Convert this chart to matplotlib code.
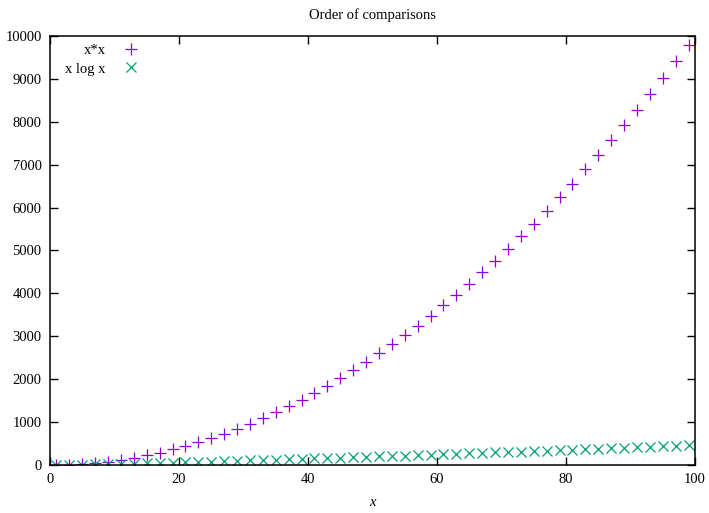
import matplotlib.pyplot as plt

plt.rcParams['font.family'] = ['Liberation Serif', 'DejaVu Serif']

# valeurs
x = [1, 3, 5, 7, 9, 11, 13, 15, 17, 19, 21, 23, 25, 27, 29, 31, 33, 35, 37, 39,
     41, 43, 45, 47, 49, 51, 53, 55, 57, 59, 61, 63, 65, 67, 69, 71, 73, 75, 77, 79,
     81, 83, 85, 87, 89, 91, 93, 95, 97, 99]
carre = [1, 9, 25, 49, 81, 121, 169, 225, 289, 361, 441, 529, 625, 729, 841, 961,
         1089, 1225, 1369, 1521, 1681, 1849, 2025, 2209, 2401, 2601, 2809, 3025,
         3249, 3481, 3721, 3969, 4225, 4489, 4761, 5041, 5329, 5625, 5929, 6241,
         6561, 6889, 7225, 7569, 7921, 8281, 8649, 9025, 9409, 9801]
xlogx = [0, 3, 8, 14, 20, 26, 33, 41, 48, 56, 64, 72, 80, 89, 98, 106, 115, 124,
         134, 143, 152, 162, 171, 181, 191, 201, 210, 220, 230, 241, 251, 261, 271,
         282, 292, 303, 313, 324, 334, 345, 356, 367, 378, 389, 399, 410, 422, 433,
         444, 455]
xticks = [0, 20, 40, 60, 80, 100]
yticks = [0, 1000, 2000, 3000, 4000, 5000, 6000, 7000, 8000, 9000, 10000]

fig = plt.figure(figsize=(7.09, 5.13), dpi=100)
ax = fig.add_axes([0.0705, 0.0936, 0.9097, 0.8362])

ax.plot(x, carre, linestyle='none', marker='+', markersize=9, markeredgewidth=0.9,
        color='#9400d3', label='x*x')
ax.plot(x, xlogx, linestyle='none', marker='x', markersize=7.5, markeredgewidth=0.9,
        color='#009e73', label='x log x')

ax.set_xlim(0, 100)
ax.set_ylim(0, 10000)
ax.set_xticks(xticks)
ax.set_yticks(yticks)
ax.tick_params(direction='in', top=True, right=True, length=6, width=1,
               labelsize=10.5, pad=6)
for s in ax.spines.values():
    s.set_linewidth(1.1)

ax.set_title('Order of comparisons', fontsize=10.5, pad=12)
ax.set_xlabel('x', fontsize=10.5, style='italic', labelpad=7)

ax.legend(loc='upper left', frameon=False, markerfirst=False, fontsize=10.5,
          handletextpad=0.8, borderaxespad=0.0, labelspacing=0.35,
          bbox_to_anchor=(0.015, 0.995), handlelength=1.8)

fig.savefig('out.png', dpi=100)
